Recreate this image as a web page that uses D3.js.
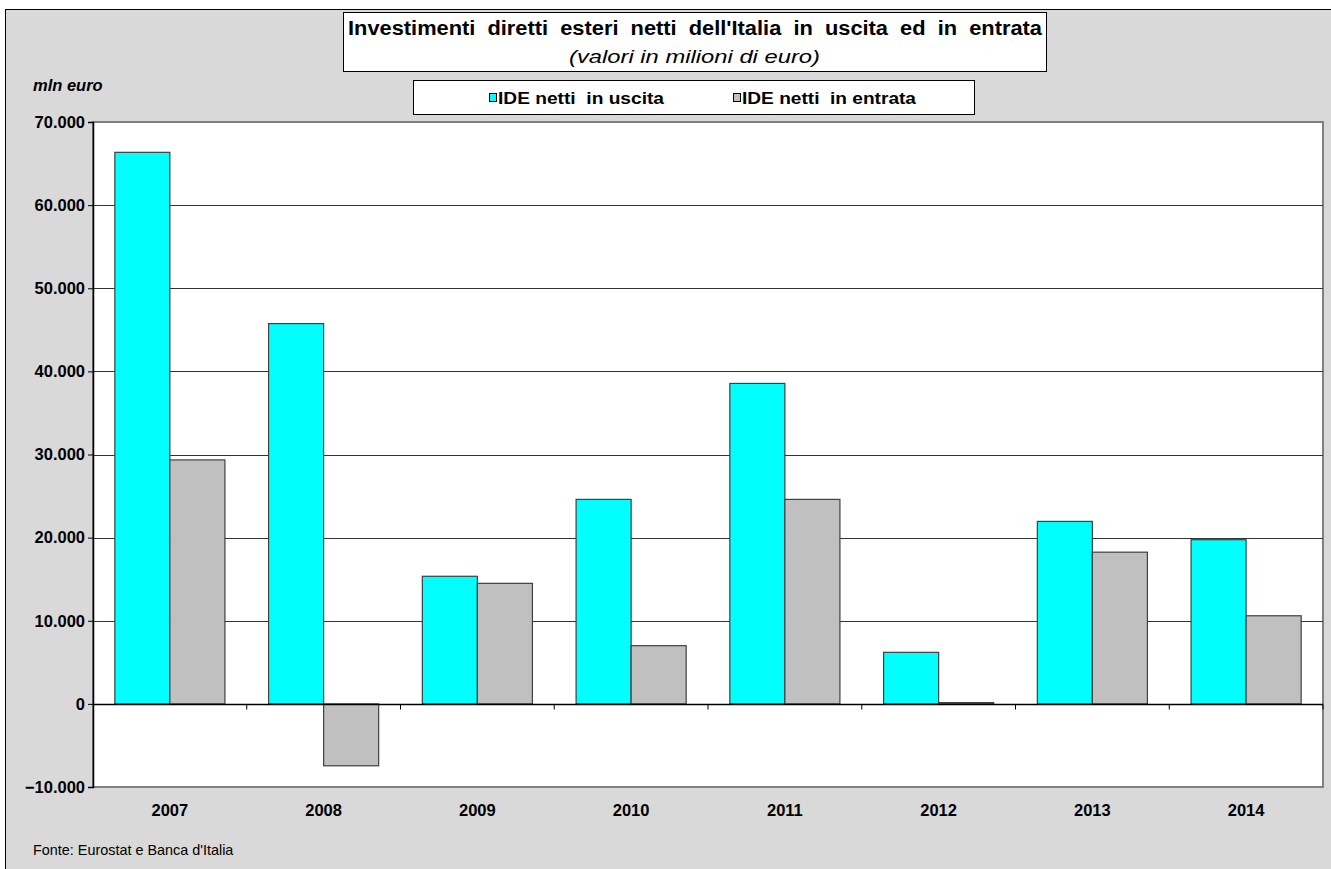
<!DOCTYPE html>
<html>
<head>
<meta charset="utf-8">
<script src="https://cdn.jsdelivr.net/npm/d3@7"></script>
<style>
  html, body { margin: 0; padding: 0; background: #ffffff; }
  svg { display: block; font-family: "Liberation Sans", Arial, sans-serif; }
</style>
</head>
<body>
<svg id="chart" width="1331" height="869"></svg>
<script>
// Anni e valori (milioni di euro)
const years = ["2007", "2008", "2009", "2010", "2011", "2012", "2013", "2014"];
const ideUscita = [66350, 45750, 15350, 24600, 38550, 6200, 21950, 19750];
const ideEntrata = [29350, -7450, 14500, 7000, 24600, 150, 18250, 10600];
const seriesNames = ["IDE netti  in uscita", "IDE netti  in entrata"];
const seriesColors = ["#00ffff", "#c0c0c0"];
const yTicks = [-10000, 0, 10000, 20000, 30000, 40000, 50000, 60000, 70000];

const svg = d3.select("#chart");
const W = 1331, H = 869;
const plot = { left: 93, right: 1323, top: 122, bottom: 787 };

// testo con larghezza fissata
function fitted(sel, len) {
  return sel.attr("textLength", len).attr("lengthAdjust", "spacingAndGlyphs");
}

// sfondo grigio e cornice esterna
svg.append("rect").attr("width", W).attr("height", H).attr("fill", "#ffffff");
svg.append("rect").attr("x", 5.5).attr("y", 9.5).attr("width", W + 20).attr("height", H + 20)
  .attr("fill", "#d9d9d9").attr("stroke", "#000").attr("stroke-width", 1);

// area del grafico
svg.append("rect")
  .attr("x", plot.left).attr("y", plot.top)
  .attr("width", plot.right - plot.left).attr("height", plot.bottom - plot.top)
  .attr("fill", "#ffffff").attr("stroke", "#808080").attr("stroke-width", 2);

const x = d3.scaleBand().domain(years).range([plot.left, plot.right]).padding(0);
const y = d3.scaleLinear().domain([-10000, 70000]).range([plot.bottom, plot.top]);

const fmt = v => d3.format(",")(v).replace(/,/g, ".");

// griglia orizzontale
svg.append("g").selectAll("line")
  .data(yTicks.filter(t => t !== 0 && t !== -10000 && t !== 70000))
  .join("line")
  .attr("x1", plot.left).attr("x2", plot.right)
  .attr("y1", d => Math.round(y(d)) + 0.5).attr("y2", d => Math.round(y(d)) + 0.5)
  .attr("stroke", "#333").attr("stroke-width", 1.2);

// barre
const barW = x.bandwidth() * 0.358;
const groups = years.map((yr, i) => ({ yr, vals: [ideUscita[i], ideEntrata[i]] }));
const barG = svg.append("g");
groups.forEach(g => {
  const cx = x(g.yr) + x.bandwidth() / 2;
  g.vals.forEach((v, s) => {
    const x0 = cx - barW + s * barW;
    barG.append("rect")
      .attr("x", x0).attr("width", barW)
      .attr("y", y(Math.max(0, v)))
      .attr("height", Math.max(1, Math.abs(y(v) - y(0))))
      .attr("fill", seriesColors[s])
      .attr("stroke", "#404040").attr("stroke-width", 1.2);
  });
});

// asse Y
const yAxis = d3.axisLeft(y).tickValues(yTicks).tickSize(5).tickFormat(fmt);
const yg = svg.append("g").attr("transform", `translate(${plot.left},0)`).call(yAxis);
yg.select(".domain").attr("stroke", "#000").attr("stroke-width", 1.5);
yg.selectAll(".tick line").attr("stroke", "#000");
yg.selectAll(".tick text")
  .attr("x", -8).attr("font-size", 16.5).attr("font-weight", "bold").attr("fill", "#000")
  .attr("font-family", "Liberation Sans, Arial, sans-serif");

// linea dello zero con tacche tra le categorie
const zeroY = Math.round(y(0)) + 0.5;
svg.append("line")
  .attr("x1", plot.left).attr("x2", plot.right)
  .attr("y1", zeroY).attr("y2", zeroY)
  .attr("stroke", "#000").attr("stroke-width", 1.5);
svg.append("g").selectAll("line")
  .data(years.slice(1).concat(["end"]))
  .join("line")
  .attr("x1", d => d === "end" ? plot.right : x(d))
  .attr("x2", d => d === "end" ? plot.right : x(d))
  .attr("y1", zeroY).attr("y2", zeroY + 5)
  .attr("stroke", "#000").attr("stroke-width", 1);

// etichette degli anni
svg.append("g").selectAll("text")
  .data(years).join("text")
  .attr("x", d => x(d) + x.bandwidth() / 2)
  .attr("y", 816)
  .attr("text-anchor", "middle")
  .attr("font-size", 16.5).attr("font-weight", "bold")
  .text(d => d);

// titolo
svg.append("rect").attr("x", 343.5).attr("y", 12.5).attr("width", 703).attr("height", 59)
  .attr("fill", "#fff").attr("stroke", "#000").attr("stroke-width", 1);
fitted(svg.append("text").attr("x", 348).attr("y", 35)
  .attr("font-size", 20).attr("font-weight", "bold")
  .attr("xml:space", "preserve")
  .text("Investimenti  diretti  esteri  netti  dell'Italia  in  uscita  ed  in  entrata"), 694);
fitted(svg.append("text").attr("x", 569).attr("y", 63)
  .attr("font-size", 19).attr("font-style", "italic")
  .text("(valori in milioni di euro)"), 251);

// legenda
svg.append("rect").attr("x", 413.5).attr("y", 80.5).attr("width", 561).attr("height", 34)
  .attr("fill", "#fff").attr("stroke", "#000").attr("stroke-width", 1);
const legX = [489, 733];
const legLen = [166, 174];
seriesNames.forEach((n, i) => {
  svg.append("rect").attr("x", legX[i] + 0.5).attr("y", 93.5).attr("width", 7).attr("height", 8)
    .attr("fill", seriesColors[i]).attr("stroke", "#000").attr("stroke-width", 1);
  fitted(svg.append("text").attr("x", legX[i] + 9).attr("y", 104)
    .attr("font-size", 16.5).attr("font-weight", "bold")
    .attr("xml:space", "preserve")
    .text(n), legLen[i]);
});

// unità di misura
svg.append("text").attr("x", 33).attr("y", 91)
  .attr("font-size", 16.5).attr("font-weight", "bold").attr("font-style", "italic")
  .text("mln euro");

// fonte
svg.append("text").attr("x", 33).attr("y", 855)
  .attr("font-size", 14.4)
  .text("Fonte: Eurostat e Banca d'Italia");
</script>
</body>
</html>
